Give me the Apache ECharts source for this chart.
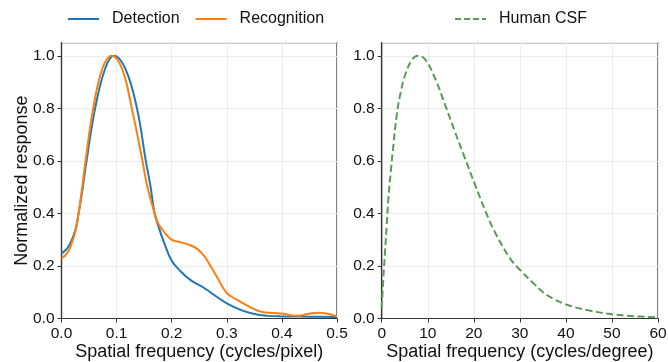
<!DOCTYPE html>
<html>
<head>
<meta charset="utf-8">
<script src="https://cdn.jsdelivr.net/npm/echarts@6/dist/echarts.min.js"></script>
<style>html,body{margin:0;padding:0;background:#fff}#c{width:668px;height:362px}</style>
</head>
<body>
<div id="c"></div>
<script>
// ---- Data ----
const detectionX = [0, 0.0125, 0.025, 0.031, 0.038, 0.0455, 0.061, 0.079, 0.095, 0.116, 0.137, 0.153, 0.161, 0.169, 0.176, 0.186, 0.2, 0.216, 0.235, 0.259, 0.283, 0.3, 0.325, 0.35, 0.375, 0.4, 0.45, 0.5];
const detectionY = [0.247, 0.273, 0.336, 0.40, 0.49, 0.60, 0.80, 0.95, 1.0, 0.95, 0.80, 0.60, 0.51, 0.40, 0.35, 0.29, 0.22, 0.18, 0.145, 0.116, 0.081, 0.058, 0.033, 0.017, 0.010, 0.008, 0.007, 0.006];

const recognitionX = [0, 0.0125, 0.025, 0.031, 0.037, 0.0436, 0.0576, 0.074, 0.091, 0.110, 0.1276, 0.147, 0.155, 0.169, 0.176, 0.186, 0.2, 0.216, 0.235, 0.247, 0.259, 0.271, 0.283, 0.3, 0.319, 0.338, 0.362, 0.386, 0.40, 0.4285, 0.4467, 0.465, 0.483, 0.5];
const recognitionY = [0.228, 0.256, 0.33, 0.40, 0.49, 0.60, 0.80, 0.95, 1.0, 0.95, 0.80, 0.60, 0.509, 0.40, 0.36, 0.33, 0.30, 0.29, 0.278, 0.264, 0.238, 0.198, 0.155, 0.097, 0.071, 0.048, 0.026, 0.021, 0.019, 0.010, 0.017, 0.022, 0.018, 0.008];

const csfX = [0, 0.36, 0.72, 1.09, 1.45, 1.96, 2.54, 3.26, 3.99, 5.07, 6.52, 7.83, 9.42, 11.6, 13.8, 15.9, 18.1, 20.3, 22.5, 24.4, 27.9, 30, 33, 35.9, 40, 44.6, 50, 54.7, 60];
const csfY = [0.04, 0.152, 0.254, 0.355, 0.457, 0.558, 0.66, 0.774, 0.85, 0.926, 0.983, 1.0, 0.987, 0.914, 0.812, 0.711, 0.609, 0.508, 0.41, 0.335, 0.228, 0.186, 0.133, 0.089, 0.054, 0.032, 0.016, 0.009, 0.004];

const leftXTicks = {min: 0, max: 0.5, interval: 0.1};
const rightXTicks = {min: 0, max: 60, interval: 10};
const yTicks = {min: 0, max: 1.05, interval: 0.2};

const seriesNames = ['Detection', 'Recognition', 'Human CSF'];
const xNames = ['Spatial frequency (cycles/pixel)', 'Spatial frequency (cycles/degree)'];
const yName = 'Normalized response';

// ---- Chart ----
const zip = (xs, ys) => xs.map((x, i) => [x, ys[i]]);
const FONT = '"Liberation Sans", Arial, sans-serif';
const AX = '#333333';
const GRIDC = '#ececec';
const SOLID_ICON = 'path://M0,0H31V2H0Z';
const DASH_ICON = 'path://M0,0H6V2H0Z M9,0H15V2H9Z M18,0H24V2H18Z M27,0H31V2H27Z';

function xAxisCfg(idx, ticks, name, decimals) {
  return {
    type: 'value', gridIndex: idx, min: ticks.min, max: ticks.max, interval: ticks.interval,
    name: name, nameLocation: 'middle', nameGap: 25, nameMoveOverlap: false,
    nameTextStyle: {fontFamily: FONT, fontSize: 18, color: '#111'},
    axisLine: {show: true, onZero: false, lineStyle: {color: AX, width: 1.2}},
    axisTick: {show: true, inside: false, length: 4, lineStyle: {color: AX, width: 1}},
    axisLabel: {fontFamily: FONT, fontSize: 15.5, color: '#111', margin: 7,
      formatter: v => decimals ? v.toFixed(decimals) : String(Math.round(v))},
    splitLine: {show: true, lineStyle: {color: GRIDC, width: 1}}
  };
}
function yAxisCfg(idx, withName) {
  return {
    type: 'value', gridIndex: idx, min: yTicks.min, max: yTicks.max, interval: yTicks.interval,
    name: withName ? yName : '', nameLocation: 'middle', nameGap: 30, nameMoveOverlap: false,
    nameTextStyle: {fontFamily: FONT, fontSize: 18, color: '#111'},
    axisLine: {show: true, lineStyle: {color: AX, width: 1.2}},
    axisTick: {show: true, inside: false, length: 4, lineStyle: {color: AX, width: 1}},
    axisLabel: {fontFamily: FONT, fontSize: 15.5, color: '#111', margin: 7, showMaxLabel: false,
      formatter: v => v > 1.02 ? '' : v.toFixed(1)},
    splitLine: {show: true, lineStyle: {color: GRIDC, width: 1}}
  };
}

const chart = echarts.init(document.getElementById('c'), null, {renderer: 'canvas'});
chart.setOption({
  animation: false,
  backgroundColor: '#fff',
  grid: [
    {left: 61.5, right: 331, top: 42.7, bottom: 43.5, show: true, borderColor: AX, borderWidth: 1.2, backgroundColor: 'transparent', containLabel: false, outerBoundsMode: 'none'},
    {left: 381.7, right: 10, top: 42.7, bottom: 43.5, show: true, borderColor: AX, borderWidth: 1.2, backgroundColor: 'transparent', containLabel: false, outerBoundsMode: 'none'}
  ],
  legend: [
    {data: [{name: seriesNames[0], icon: SOLID_ICON}, {name: seriesNames[1], icon: SOLID_ICON}],
      left: 68, top: 11, padding: 0, itemWidth: 31, itemHeight: 2, itemGap: 16,
      textStyle: {fontFamily: FONT, fontSize: 16, color: '#111', padding: [0, 0, 0, 8]}},
    {data: [{name: seriesNames[2], icon: DASH_ICON}], left: 455, top: 11, padding: 0, itemWidth: 31, itemHeight: 2,
      textStyle: {fontFamily: FONT, fontSize: 16, color: '#111', padding: [0, 0, 0, 8]}}
  ],
  xAxis: [xAxisCfg(0, leftXTicks, xNames[0], 1), xAxisCfg(1, rightXTicks, xNames[1], 0)],
  yAxis: [yAxisCfg(0, true), yAxisCfg(1, false)],
  series: [
    {name: seriesNames[0], type: 'line', xAxisIndex: 0, yAxisIndex: 0, data: zip(detectionX, detectionY),
      smooth: 0.4, showSymbol: false, symbol: 'none', color: '#1f77b4', lineStyle: {width: 2, color: '#1f77b4'}},
    {name: seriesNames[1], type: 'line', xAxisIndex: 0, yAxisIndex: 0, data: zip(recognitionX, recognitionY),
      smooth: 0.4, showSymbol: false, symbol: 'none', color: '#ff7f0e', lineStyle: {width: 2, color: '#ff7f0e'}},
    {name: seriesNames[2], type: 'line', xAxisIndex: 1, yAxisIndex: 1, data: zip(csfX, csfY),
      smooth: 0.4, showSymbol: false, symbol: 'none', color: '#5a9a5a', lineStyle: {width: 2, color: '#5a9a5a', type: [7, 3.5]}}
  ]
});
</script>
</body>
</html>
